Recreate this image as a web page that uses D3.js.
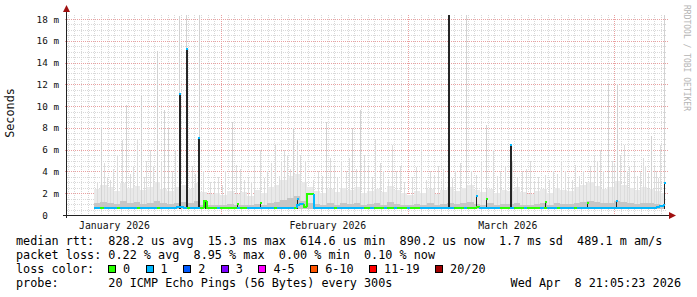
<!doctype html>
<html>
<head>
<meta charset="utf-8">
<script src="https://d3js.org/d3.v7.min.js"></script>
<style>
  body{margin:0;background:#fff;}
  svg{display:block;font-family:"DejaVu Sans Mono",monospace;}
  .grid line{shape-rendering:crispEdges;stroke-width:1;}
</style>
</head>
<body>
<svg id="chart" width="697" height="297"></svg>
<script>
// ---- data ----
var startTime = new Date(2026,0,8,21,5,23);
var endTime = new Date(2026,3,8,21,5,23);
var lastDataDay = 89.7;          // days after startTime where data stops
var firstSampleDay = 4.0;        // first half-day sample
var smokeFloor = 0.58;           // ms, lowest ping

// median rtt in ms, one value per 12h
var medianMs = [
  0.66,0.64,0.62,0.66,0.63,0.65,0.67,0.64,0.63,0.65,
  0.64,0.66,0.63,0.62,0.65,0.66,0.64,0.63,0.65,0.66,
  0.64,0.63,0.66,0.65,0.68,0.72,0.70,0.66,0.64,0.65,
  0.66,0.64,0.65,1.30,0.66,0.63,0.64,0.62,0.65,0.66,
  0.63,0.64,0.65,0.66,0.62,0.64,0.66,0.65,0.63,0.64,
  0.66,0.64,0.65,0.63,0.62,0.64,0.66,0.65,0.64,0.66,
  0.68,0.90,1.05,0.75,1.90,1.90,0.66,0.64,0.63,0.65,
  0.64,0.66,0.63,0.65,0.66,0.64,0.65,0.63,0.66,0.64,
  0.63,0.65,0.66,0.64,0.62,0.65,0.63,0.66,0.64,0.65,
  0.66,0.64,0.63,0.65,0.64,0.66,0.65,0.63,0.64,0.66,
  0.65,0.63,0.64,0.66,0.65,0.64,0.63,0.65,0.66,0.64,
  0.65,0.63,0.64,0.66,0.65,0.70,0.64,0.63,0.65,0.66,
  0.64,0.65,0.63,0.66,0.64,0.65,0.63,0.64,0.66,0.65,
  0.63,0.64,0.66,0.65,0.64,0.63,0.65,0.66,0.64,0.63,
  0.65,0.66,0.64,0.63,0.65,0.64,0.66,0.65,0.63,0.64,
  0.66,0.65,0.64,0.63,0.65,0.66,0.64,0.65,0.63,0.64,
  0.66,0.65,0.64,0.63,0.65,0.66,0.64,0.65,0.68,0.75,
  0.80,0.90
];
// lost pings (of 20), one value per 12h
var lostPings = [
  1,1,0,1,1,1,1,0,1,1, 1,1,1,0,1,1,1,1,1,0, 1,1,1,1,1,1,1,1,0,1,
  1,1,0,0,0,0,0,1,0,0, 0,0,0,1,0,0,1,1,1,1, 1,1,1,1,0,1,1,1,1,1,
  0,1,1,0,0,0,1,1,1,1, 1,1,0,1,1,1,1,1,1,1, 1,0,0,1,0,0,0,1,0,0,
  1,0,0,0,1,0,0,0,1,1, 1,1,1,1,1,1,1,1,0,0, 0,1,0,0,0,0,1,1,1,1,
  1,1,0,0,0,1,0,0,0,1, 0,0,0,0,1,0,1,1,1,0, 1,1,1,1,0,1,1,1,1,1,
  1,1,1,1,1,1,1,1,1,1, 1,1,1,1,1,1,1,1,1,1, 1,1
];
// top of the thin smoke per day, from day 4 on (ms)
var smokeHi = [
  2.4,2.8,2.6,2.2,2.9,2.5, 2.7,2.3,2.6,3.0,2.4,2.2,
  2.6,2.8,2.4,2.9,2.1,1.9, 2.0,1.8,2.2,1.9,2.1,1.7,
  2.3,2.0,2.6,2.8,3.2,3.6, 3.8,3.0,2.6,2.2,2.0,2.4,
  2.1,2.5,2.3,2.6,2.0,2.2, 2.4,2.1,2.7,2.3,2.0,1.8,
  2.2,2.0,2.4,1.9,2.3,2.6, 2.2,2.5,2.8,2.3,2.1,2.4,
  2.0,2.3,2.2,2.6,2.1,1.9, 2.2,2.4,2.0,2.5,2.3,2.2,
  2.6,2.8,3.0,2.7,2.4,2.6, 3.1,2.8,2.5,2.3,2.6,2.4,
  2.2,2.0
];
// top of the dense smoke per day (ms)
var smokeMid = [
  1.1,1.2,1.1,1.0,1.3,1.1, 1.2,1.0,1.1,1.3,1.1,1.0,
  1.1,1.2,1.1,1.3,0.95,0.9, 0.95,0.9,1.0,0.9,0.95,0.9,
  1.0,0.95,1.1,1.2,1.4,1.6, 1.7,1.3,1.1,1.0,0.95,1.1,
  0.95,1.1,1.0,1.1,0.95,1.0, 1.1,0.95,1.2,1.0,0.95,0.9,
  1.0,0.95,1.1,0.9,1.0,1.1, 1.0,1.1,1.2,1.0,0.95,1.1,
  0.95,1.0,1.0,1.1,0.95,0.9, 1.0,1.1,0.95,1.1,1.0,1.0,
  1.1,1.2,1.3,1.2,1.1,1.1, 1.3,1.2,1.1,1.0,1.1,1.1,
  1.0,0.95
];
// thin smoke spikes: day after startTime, top in ms
var spikeDays = [5.1,6.0,6.9,8.25,8.85,9.9,11.1,11.85,12.45,13.5,14.55,15.15,15.75,16.8,17.85,18.75,19.8,
  21.45,22.65,23.7,24.75,25.95,27.15,28.05,28.95,30.0,31.2,32.1,33.0,33.9,34.95,37.65,38.85,40.05,
  41.1,41.85,42.3,42.75,43.95,45.15,46.2,47.4,48.75,49.95,51.75,53.1,54.45,55.65,57.15,58.2,59.85,
  61.35,62.85,63.9,64.95,66.75,68.25,69.45,70.65,71.7,72.9,74.1,75.15,76.2,77.4,78.45,79.5,80.4,
  81.15,81.75,82.5,83.55,84.3,85.05,85.95,86.7,87.6,88.35,88.95,89.55,
  4.5,5.55,6.45,7.5,9.45,10.5,11.55,12.9,14.1,16.2,19.2,20.4,22.05,23.25,25.35,26.55,27.6,29.55,
  30.6,31.8,32.55,33.45,34.5,35.7,36.9,38.25,39.45,40.5,43.35,44.55,45.75,46.95,48.15,49.35,50.55,
  52.35,53.85,55.05,56.4,57.75,58.95,60.6,62.1,64.5,65.7,67.5,68.85,70.05,72.3,73.5,74.7,75.75,
  76.8,77.85,79.05,79.95,82.05,82.95,84.0,85.5,86.4,87.15,88.05,88.65];
var spikeTops = [8.0,3.5,4.2,6.9,10.1,4.5,11.0,5.0,6.0,15.1,9.6,8.0,4.0,18.3,18.4,4.5,18.4,
  3.0,3.5,4.0,8.5,4.2,3.5,4.5,6.0,4.0,6.4,5.0,5.5,8.0,5.5,4.0,8.5,4.5,
  5.0,4.0,5.2,8.0,9.6,4.5,6.9,4.0,6.4,4.5,3.5,6.0,4.0,4.5,18.4,4.0,18.4,
  3.7,8.3,6.0,4.0,5.0,4.0,5.0,3.5,3.7,4.0,5.0,3.5,4.6,4.0,4.5,5.0,4.0,
  12.0,5.0,12.0,6.4,4.5,5.0,4.0,4.5,7.3,4.0,6.4,18.4,
  3.0,4.8,3.2,5.5,3.8,7.0,3.5,4.5,5.0,6.0,3.8,4.0,3.0,2.8,4.6,3.2,3.0,3.4,
  4.8,3.6,6.0,4.2,6.8,5.0,3.2,3.6,5.2,3.4,4.2,5.5,3.5,4.8,3.3,4.0,3.0,
  4.4,3.2,3.6,4.2,3.4,4.8,4.0,5.0,3.6,4.4,3.4,4.2,3.0,3.2,3.8,4.0,3.2,
  3.6,3.0,5.5,6.0,4.8,5.5,4.0,3.6,5.2,3.8,4.6,3.4];
// dense dark bars (all pings slow): day, top in ms, lost pings at the top
var barDays = [16.8,17.85,19.7,20.7,25.5,28.9,34.5,57.15,61.3,62.9,66.5,71.7,78.0,82.3,89.55];
var barTops = [11.2,15.3,7.2,1.4,1.1,1.2,1.6,18.4,1.8,1.6,6.5,1.3,1.2,1.4,3.0];
var barLost = [1,1,1,1,0,0,1,-1,1,0,1,0,0,1,1];

var yTicks = [0,2,4,6,8,10,12,14,16,18];
var yTickLabels = ["0  ","2 m","4 m","6 m","8 m","10 m","12 m","14 m","16 m","18 m"];
var monthLabels = ["January 2026","February 2026","March 2026"];
var monthLabelDates = [new Date(2026,0,16),new Date(2026,1,17),new Date(2026,2,16)];
var lossNames = ["0","1","2","3","4-5","6-10","11-19","20/20"];
var lossColors = ["#26ff00","#00b8ff","#0059ff","#7e00ff","#ff00ff","#ff5500","#ff0000","#a10000"];
var lossUpper = [0,1,2,3,5,10,19,20];
var legendLines = [
  "median rtt:  828.2 us avg  15.3 ms max  614.6 us min  890.2 us now  1.7 ms sd  489.1 m am/s",
  "packet loss: 0.22 % avg  8.95 % max  0.00 % min  0.10 % now",
  "loss color:",
  "probe:       20 ICMP Echo Pings (56 Bytes) every 300s"
];
var stamp = "Wed Apr  8 21:05:23 2026";

// ---- drawing ----
var svg = d3.select('#chart');
var pLeft = 67, pRight = 667, pTop = 15, pBottom = 215;
var x = d3.scaleTime().domain([startTime,endTime]).range([pLeft,pRight]);
var y = d3.scaleLinear().domain([0,18.37]).range([pBottom,pTop]);
function dayToDate(d){ return new Date(startTime.getTime()+d*86400000); }
function xd(d){ return Math.round(x(dayToDate(d))); }
function yr(v){ return Math.round(y(v)); }
function keepSpaces(t){ return t.replace(/ /g,'\u00a0'); }
function lossColor(n){
  for(var k=0;k<lossUpper.length;k++) if(n<=lossUpper[k]) return lossColors[k];
  return lossColors[lossColors.length-1];
}

// grid
var g = svg.append('g').attr('class','grid');
var minorY = d3.range(0.5,18.37,0.5).filter(function(v){return v%2!==0;});
g.selectAll('line.my').data(minorY).enter().append('line')
  .attr('x1',pLeft).attr('x2',pRight)
  .attr('y1',function(d){return yr(d)+0.5;}).attr('y2',function(d){return yr(d)+0.5;})
  .attr('stroke','#d8d8d8').attr('stroke-dasharray','1,1');
g.selectAll('line.mx').data(d3.timeDay.range(startTime,endTime)).enter().append('line')
  .attr('x1',function(d){return Math.round(x(d))+0.5;}).attr('x2',function(d){return Math.round(x(d))+0.5;})
  .attr('y1',pTop).attr('y2',pBottom)
  .attr('stroke','#d8d8d8').attr('stroke-dasharray','1,1');
g.selectAll('line.My').data(yTicks.slice(1)).enter().append('line')
  .attr('x1',pLeft-2).attr('x2',pRight+2)
  .attr('y1',function(d){return yr(d)+0.5;}).attr('y2',function(d){return yr(d)+0.5;})
  .attr('stroke','#e9a0a0').attr('stroke-dasharray','1,1');
g.selectAll('line.Mx').data(d3.timeMonth.range(startTime,endTime)).enter().append('line')
  .attr('x1',function(d){return Math.round(x(d))+0.5;}).attr('x2',function(d){return Math.round(x(d))+0.5;})
  .attr('y1',pTop).attr('y2',pBottom+2)
  .attr('stroke','#e9a0a0').attr('stroke-dasharray','1,1');

// smoke
var smoke = svg.append('g').attr('shape-rendering','crispEdges');
var floorY = yr(smokeFloor);
smokeHi.forEach(function(v,j){
  var d0 = firstSampleDay+j, d1 = Math.min(d0+1,lastDataDay);
  smoke.append('rect').attr('x',xd(d0)).attr('width',xd(d1)-xd(d0))
    .attr('y',yr(v)).attr('height',floorY-yr(v)).attr('fill','#e9e9e9');
});
spikeDays.forEach(function(d,k){
  smoke.append('rect').attr('x',xd(d)).attr('width',1)
    .attr('y',yr(spikeTops[k])).attr('height',floorY-yr(spikeTops[k]))
    .attr('fill',spikeTops[k]>7?'#d2d2d2':'#dcdcdc');
});
smokeMid.forEach(function(v,j){
  var d0 = firstSampleDay+j, d1 = Math.min(d0+1,lastDataDay);
  smoke.append('rect').attr('x',xd(d0)).attr('width',xd(d1)-xd(d0))
    .attr('y',yr(v)).attr('height',floorY-yr(v)).attr('fill','#c6c6c6');
});
barDays.forEach(function(d,k){
  var t = yr(barTops[k]);
  smoke.append('rect').attr('x',xd(d)).attr('width',barTops[k]>5?2:1)
    .attr('y',t).attr('height',floorY-t).attr('fill','#262626');
  if(barLost[k]>=0){
    smoke.append('rect').attr('x',xd(d)).attr('width',2).attr('y',t).attr('height',2)
      .attr('fill',lossColor(barLost[k]));
  }
});

// median line coloured by loss
var med = svg.append('g').attr('shape-rendering','crispEdges').attr('fill','none').attr('stroke-width',2);
medianMs.forEach(function(m,i){
  var d0 = firstSampleDay+i*0.5, d1 = Math.min(d0+0.5,lastDataDay);
  var prev = i>0 ? medianMs[i-1] : m;
  med.append('path')
    .attr('d','M'+xd(d0)+','+yr(prev)+'V'+yr(m)+'H'+xd(d1))
    .attr('stroke',lossColor(lostPings[i]));
});

// axes
var ax = svg.append('g').attr('shape-rendering','crispEdges');
ax.append('line').attr('x1',pLeft-4).attr('x2',pRight+3).attr('y1',pBottom+0.5).attr('y2',pBottom+0.5).attr('stroke','#222');
ax.append('line').attr('x1',pLeft-0.5).attr('x2',pLeft-0.5).attr('y1',pBottom+3).attr('y2',pTop-4).attr('stroke','#222');
svg.append('path').attr('d','M'+(pLeft-4)+','+(pTop-3)+'L'+(pLeft-0.5)+','+(pTop-10)+'L'+(pLeft+3)+','+(pTop-3)+'Z').attr('fill','#a01010');
svg.append('path').attr('d','M'+(pRight+2)+','+(pBottom-3)+'L'+(pRight+9)+','+(pBottom+0.5)+'L'+(pRight+2)+','+(pBottom+4)+'Z').attr('fill','#a01010');

svg.selectAll('text.yl').data(yTicks).enter().append('text')
  .attr('x',59).attr('y',function(d){return y(d)+3.5;})
  .attr('text-anchor','end').attr('font-size','9.3px').attr('fill','#111')
  .text(function(d,i){return keepSpaces(yTickLabels[i]);});
svg.selectAll('text.ml').data(monthLabels).enter().append('text')
  .attr('x',function(d,i){return x(monthLabelDates[i]);}).attr('y',228.5)
  .attr('text-anchor','middle').attr('font-size','9.8px').attr('fill','#111')
  .text(function(d){return d;});
svg.append('text').attr('transform','translate(14,113) rotate(-90)')
  .attr('text-anchor','middle').attr('font-size','11.8px').attr('fill','#111').text('Seconds');
svg.append('text').attr('transform','translate(684,5) rotate(90)')
  .attr('font-size','8px').attr('fill','#b4b4b4').text('RRDTOOL / TOBI OETIKER');

// legend
var lg = svg.append('g').attr('font-size','11.8px').attr('fill','#000');
legendLines.forEach(function(t,i){
  lg.append('text').attr('x',16).attr('y',245+i*14).text(keepSpaces(t));
});
var cx = 108;
lossNames.forEach(function(n,k){
  lg.append('rect').attr('x',cx+0.5).attr('y',265.5).attr('width',7).attr('height',7)
    .attr('fill',lossColors[k]).attr('stroke','#000').attr('shape-rendering','crispEdges');
  lg.append('text').attr('x',cx+15).attr('y',273).text(n);
  cx += 30.5 + 7.1*n.length;
});
lg.append('text').attr('x',681).attr('y',287).attr('text-anchor','end').text(keepSpaces(stamp));
</script>
</body>
</html>
